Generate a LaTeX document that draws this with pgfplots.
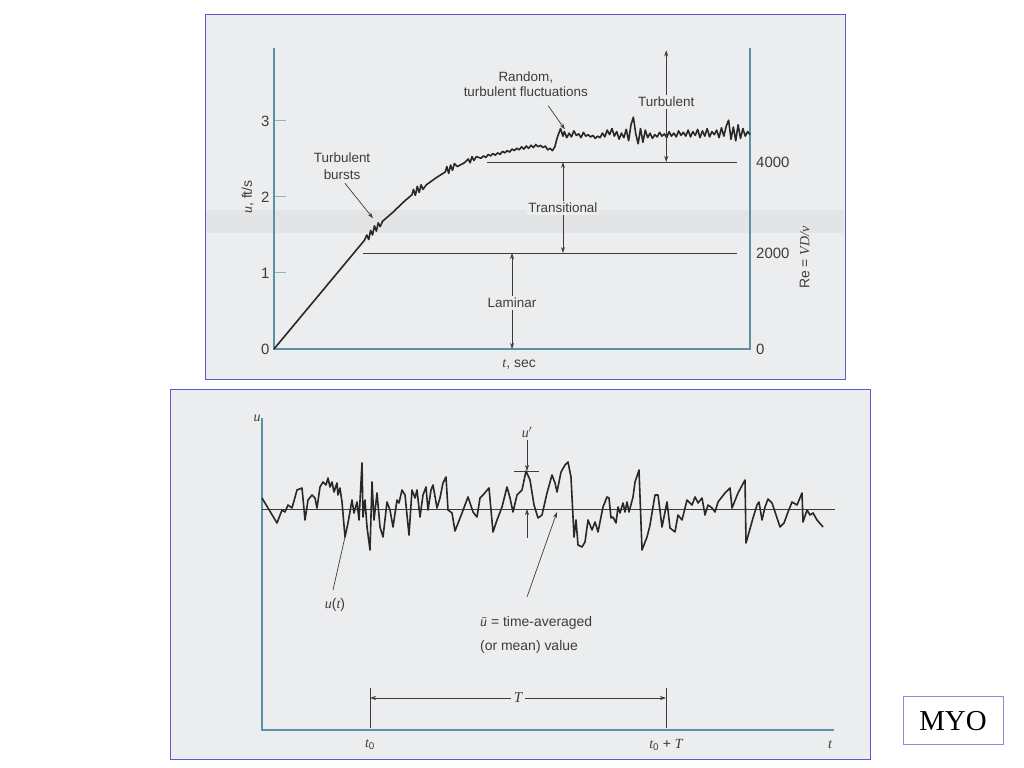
\documentclass[border=0pt]{standalone}
\usepackage{fontspec}
\setmainfont{Liberation Sans}
\newfontfamily\serifv{Liberation Serif}
\usepackage{pgfplots}
\usepackage{pgfplotstable}
\pgfplotsset{compat=1.18}
\usetikzlibrary{arrows.meta}
\definecolor{axteal}{RGB}{95,145,165}
\definecolor{frameblue}{RGB}{90,90,205}
\definecolor{panelbg}{RGB}{236,237,238}
\definecolor{bandbg}{RGB}{226,228,229}
\definecolor{ink}{RGB}{40,40,40}
\definecolor{txt}{RGB}{60,60,60}
\newcommand{\vi}[1]{{\serifv\itshape #1}}
\newcommand{\fs}[1]{\fontsize{#1}{#1}\selectfont}

\pgfplotstableread{
t u
0 0
1.90 1.43
1.95 1.50
1.99 1.44
2.03 1.56
2.07 1.50
2.11 1.62
2.15 1.55
2.19 1.66
2.23 1.61
2.28 1.68
2.50 1.80
2.75 1.95
2.90 2.03
2.93 2.10
2.97 2.02
3.01 2.14
3.05 2.06
3.09 2.16
3.13 2.10
3.20 2.16
3.40 2.25
3.60 2.33
3.63 2.40
3.67 2.31
3.71 2.42
3.75 2.35
3.79 2.44
3.85 2.40
4.00 2.45
4.08 2.50
4.12 2.45
4.16 2.53
4.20 2.48
4.25 2.53
4.35 2.51
4.40 2.54
4.45 2.52
4.50 2.56
4.55 2.54
4.60 2.57
4.65 2.55
4.70 2.58
4.75 2.56
4.80 2.60
4.85 2.58
4.90 2.61
4.95 2.59
5.00 2.63
5.05 2.61
5.10 2.64
5.15 2.62
5.20 2.66
5.25 2.63
5.30 2.67
5.35 2.64
5.40 2.68
5.45 2.65
5.50 2.69
5.55 2.66
5.60 2.68
5.65 2.65
5.70 2.67
5.75 2.62
5.80 2.64
5.85 2.61
5.90 2.66
5.95 2.78
6.02 2.90
6.07 2.80
6.10 2.86
6.15 2.78
6.20 2.84
6.25 2.79
6.30 2.87
6.35 2.81
6.40 2.83
6.45 2.78
6.50 2.85
6.55 2.80
6.60 2.82
6.65 2.79
6.70 2.81
6.75 2.77
6.80 2.80
6.85 2.78
6.90 2.84
6.95 2.79
7.00 2.88
7.05 2.82
7.10 2.90
7.15 2.80
7.20 2.86
7.25 2.76
7.30 2.84
7.35 2.78
7.40 2.89
7.45 2.74
7.50 2.95
7.55 3.05
7.60 2.83
7.65 2.70
7.70 2.90
7.75 2.72
7.80 2.88
7.85 2.78
7.90 2.84
7.95 2.77
8.00 2.82
8.05 2.79
8.10 2.85
8.15 2.80
8.20 2.83
8.25 2.78
8.30 2.86
8.35 2.80
8.40 2.84
8.45 2.79
8.50 2.87
8.55 2.81
8.60 2.85
8.65 2.80
8.70 2.88
8.75 2.79
8.80 2.86
8.85 2.81
8.90 2.89
8.95 2.78
9.00 2.87
9.05 2.80
9.10 2.90
9.15 2.79
9.20 2.86
9.25 2.82
9.30 2.88
9.35 2.78
9.40 2.91
9.45 2.80
9.50 2.93
9.55 3.01
9.60 2.76
9.65 2.92
9.70 2.74
9.75 2.95
9.80 2.77
9.85 2.90
9.90 2.80
9.95 2.86
10.0 2.82
}\topdata

\pgfplotstableread{
x y
0 232
15 207
20 220
23 218
26 225
30 222
35 240
40 242
43 210
46 230
50 235
53 232
55 222
58 243
61 248
64 245
66 252
68 243
70 248
72 238
75 247
76 235
78 242
80 228
83 193
86 207
90 230
92 217
95 228
97 210
100 267
101 213
103 230
105 203
108 180
110 248
112 210
115 237
118 203
121 193
125 228
128 220
131 203
135 230
137 227
140 240
143 235
147 195
150 240
153 232
155 240
158 213
161 235
164 243
166 220
169 240
171 245
175 222
178 232
181 247
184 253
186 220
190 217
193 199
200 217
206 233
211 218
215 213
218 232
221 235
227 242
231 198
235 210
240 223
245 243
248 232
251 218
255 235
260 240
264 259
268 250
272 225
276 212
280 215
285 237
290 255
293 247
295 238
299 258
303 265
306 268
309 253
312 193
314 210
316 185
320 183
323 188
326 210
330 200
333 208
336 198
341 223
345 233
347 232
349 212
351 213
354 207
356 223
358 217
361 227
363 218
365 228
367 218
371 233
373 248
377 260
380 180
385 193
388 205
393 235
396 235
400 203
405 228
408 202
413 198
416 215
420 210
425 230
430 225
433 233
436 227
440 232
443 215
446 225
450 222
453 218
456 228
463 237
468 242
470 222
476 237
483 250
484 187
491 212
495 225
497 228
500 210
503 223
506 231
510 227
514 215
518 203
522 207
526 218
530 228
535 225
540 237
541 208
545 220
548 215
551 217
555 210
561 203
}\botdata

\begin{document}
\begin{tikzpicture}[x=1bp,y=1bp,
  arr/.style={-{Stealth[length=6bp,width=4bp]}},
  darr/.style={{Stealth[length=6bp,width=4bp]}-{Stealth[length=6bp,width=4bp]}}]
\fill[white] (0,0) rectangle (1024,768);
% panels
\filldraw[fill=panelbg, draw=frameblue, line width=1bp] (205,388) rectangle (845,753);
\fill[bandbg] (206,535) rectangle (844,558);
\draw[frameblue, line width=1bp] (205,388) rectangle (845,753);
\filldraw[fill=panelbg, draw=frameblue, line width=1bp] (170,8) rectangle (870,378);
% MYO box
\draw[frameblue!70, line width=1bp] (903,23) rectangle (1003,71);
\node[font=\serifv\fs{29}] at (953,47) {MYO};

% ---------- top chart ----------
\begin{axis}[at={(274bp,419bp)}, anchor=south west, scale only axis,
  width=476bp, height=301bp, xmin=0, xmax=10, ymin=0, ymax=3.96,
  clip=false, axis line style={draw=none}, xtick=\empty,
  ytick={0,1,2,3}, yticklabels={0,1,2,3}, ytick pos=left,
  tick align=inside, major tick length=12bp,
  tick style={axteal!70, line width=1bp},
  yticklabel style={font=\fs{15}, text=txt, xshift=-1bp}]
\draw[axteal, line width=1.4bp] (axis cs:0,3.96) -- (axis cs:0,0) -- (axis cs:10,0) -- (axis cs:10,3.96);
\addplot[txt, line width=0.9bp] coordinates {(4.47,2.46) (9.73,2.46)};
\addplot[txt, line width=0.9bp] coordinates {(1.87,1.263) (9.73,1.263)};
\addplot[ink, line width=1.6bp, line join=round] table[x=t,y=u] {\topdata};
% regime arrows
\draw[txt, line width=0.8bp, darr] (axis cs:5.0,0) -- (axis cs:5.0,1.263);
\node[fill=panelbg, font=\fs{13.5}, text=txt, inner sep=2bp] at (axis cs:5.0,0.605) {Laminar};
\draw[txt, line width=0.8bp, darr] (axis cs:6.07,1.263) -- (axis cs:6.07,2.46);
\node[fill=panelbg, font=\fs{13.5}, text=txt, inner sep=2bp] at (axis cs:6.07,1.855) {Transitional};
\draw[txt, line width=0.8bp, darr] (axis cs:8.24,3.93) -- (axis cs:8.24,2.46);
\node[fill=panelbg, font=\fs{13.5}, text=txt, inner sep=2bp] at (axis cs:8.24,3.25) {Turbulent};
% notes
\node[align=center, font=\fontsize{13.5}{15.5}\selectfont, text=txt] at (axis cs:5.29,3.48) {Random,\\turbulent fluctuations};
\draw[txt, line width=0.7bp, arr] (axis cs:5.76,3.20) -- (axis cs:6.11,2.89);
\node[align=center, font=\fontsize{13.5}{17}\selectfont, text=txt] at (axis cs:1.43,2.40) {Turbulent\\bursts};
\draw[txt, line width=0.7bp, arr] (axis cs:1.49,2.18) -- (axis cs:2.08,1.72);
% labels
\node[rotate=90, font=\fs{14}, text=txt] at (axis cs:-0.55,2.0) {\vi{u}, ft/s};
\node[font=\fs{14}, text=txt] at (axis cs:5.15,-0.21) {\vi{t}, sec};
\node[rotate=90, font=\fs{14}, text=txt] at (axis cs:11.15,1.2) {Re = \vi{VD/ν}};
\node[anchor=west, font=\fs{15}, text=txt, inner sep=1bp, xshift=5bp] at (axis cs:10,0) {0};
\node[anchor=west, font=\fs{15}, text=txt, inner sep=1bp, xshift=5bp] at (axis cs:10,1.263) {2000};
\node[anchor=west, font=\fs{15}, text=txt, inner sep=1bp, xshift=5bp] at (axis cs:10,2.46) {4000};
\end{axis}

% ---------- bottom chart ----------
\begin{axis}[at={(262bp,38bp)}, anchor=south west, scale only axis,
  width=573bp, height=312bp, xmin=0, xmax=573, ymin=0, ymax=312,
  clip=false, axis line style={draw=none}, ticks=none]
\draw[axteal, line width=1.4bp] (axis cs:0,312) -- (axis cs:0,0) -- (axis cs:572,0);
\addplot[txt, line width=0.9bp] coordinates {(0,221) (573,221)};
\addplot[ink, line width=1.6bp, line join=round] table[x=x,y=y] {\botdata};
% u'
\node[font=\fs{14}, text=txt] at (axis cs:265,298) {\vi{u}$'$};
\draw[txt, line width=0.7bp, arr] (axis cs:265,290) -- (axis cs:265,259);
\draw[txt, line width=0.8bp] (axis cs:252,259) -- (axis cs:277,259);
\draw[txt, line width=0.7bp, arr] (axis cs:265,192) -- (axis cs:265,221);
% u(t)
\draw[txt, line width=0.7bp] (axis cs:71,140) -- (axis cs:83,193);
\node[font=\fs{14}, text=txt] at (axis cs:73,125) {\vi{u}(\vi{t})};
% mean
\draw[txt, line width=0.7bp, arr] (axis cs:265,133) -- (axis cs:295,218);
\node[anchor=west, align=left, font=\fontsize{14}{24}\selectfont, text=txt, inner sep=0bp] at (axis cs:218,95) {\vi{ū} = time-averaged\\(or mean) value};
% T
\draw[txt, line width=0.7bp] (axis cs:108,2) -- (axis cs:108,42);
\draw[txt, line width=0.7bp] (axis cs:404,2) -- (axis cs:404,42);
\draw[txt, line width=0.7bp, darr] (axis cs:108,32) -- (axis cs:404,32);
\node[fill=panelbg, font=\fs{15}, text=txt, inner sep=3bp] at (axis cs:256,32) {\vi{T}};
\node[font=\fs{14}, text=txt] at (axis cs:108,-15) {\vi{t}\textsubscript{0}};
\node[font=\fs{14}, text=txt] at (axis cs:404,-15) {\vi{t}\textsubscript{0} + \vi{T}};
\node[font=\fs{14}, text=txt] at (axis cs:568,-15) {\vi{t}};
\node[font=\fs{14}, text=txt] at (axis cs:-5,312) {\vi{u}};
\end{axis}
\end{tikzpicture}
\end{document}
